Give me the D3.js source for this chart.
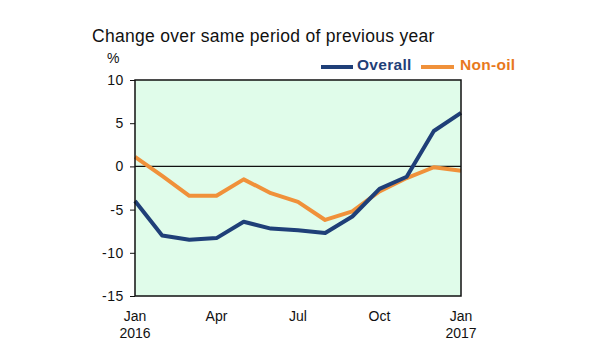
<!DOCTYPE html>
<html><head><meta charset="utf-8">
<script src="https://cdn.jsdelivr.net/npm/d3@7"></script>
<style>body{margin:0;background:#fff}svg text{font-family:"Liberation Sans",Arial,sans-serif}</style>
</head><body><svg id="c" width="600" height="360"></svg>
<script>
const months = ["Jan","Feb","Mar","Apr","May","Jun","Jul","Aug","Sep","Oct","Nov","Dec","Jan"];
const overall = [-4.0,-8.0,-8.5,-8.3,-6.4,-7.2,-7.4,-7.7,-5.8,-2.6,-1.2,4.1,6.2];
const nonOil = [1.1,-1.1,-3.4,-3.4,-1.5,-3.1,-4.1,-6.2,-5.2,-2.9,-1.35,-0.1,-0.5];
const yTicks = [10,5,0,-5,-10,-15];
const xTickIdx = [0,3,6,9,12];
const xTickLabels = [["Jan","2016"],["Apr",""],["Jul",""],["Oct",""],["Jan","2017"]];

const svg = d3.select("#c");
const L=135,R=461,T=80,B=296;
const x = d3.scaleLinear().domain([0,12]).range([L,R]);
const y = d3.scaleLinear().domain([-15,10]).range([B,T]);

svg.append("rect").attr("x",L).attr("y",T).attr("width",R-L).attr("height",B-T).attr("fill","#e0fcea");

svg.append("text").attr("x",92).attr("y",41.5).attr("font-size",17.5).attr("letter-spacing",0.3).attr("fill","#111").text("Change over same period of previous year");
svg.append("text").attr("x",107).attr("y",62.5).attr("font-size",14).attr("fill","#111").text("%");

// y axis
const ya = svg.append("g").attr("transform",`translate(${L},0)`)
  .call(d3.axisLeft(y).tickValues(yTicks).tickSize(5).tickPadding(6).tickFormat(d => String(d)));
ya.select(".domain").remove();
ya.selectAll("text").attr("font-size",14).attr("fill","#111").attr("letter-spacing",0.6).style("font-family","'Liberation Sans',Arial,sans-serif");
ya.selectAll("line").attr("stroke","#111");

// x axis labels
const xg = svg.append("g");
xTickIdx.forEach((i,k)=>{
  const t = xg.append("text").attr("x",x(i)).attr("text-anchor","middle").attr("font-size",14).attr("fill","#111");
  t.append("tspan").attr("x",x(i)).attr("y",321).text(xTickLabels[k][0]);
  if (xTickLabels[k][1]) t.append("tspan").attr("x",x(i)).attr("y",338).text(xTickLabels[k][1]);
});

// zero line
svg.append("line").attr("x1",L).attr("x2",R).attr("y1",y(0)).attr("y2",y(0)).attr("stroke","#111").attr("stroke-width",1.2);

const line = d3.line().x((d,i)=>x(i)).y(d=>y(d));
svg.append("path").datum(nonOil).attr("d",line).attr("fill","none").attr("stroke","#f0913a").attr("stroke-width",4).attr("stroke-linejoin","round");
svg.append("path").datum(overall).attr("d",line).attr("fill","none").attr("stroke","#1f3f78").attr("stroke-width",4).attr("stroke-linejoin","round");

// frame
svg.append("rect").attr("x",L).attr("y",T).attr("width",R-L).attr("height",B-T).attr("fill","none").attr("stroke","#111").attr("stroke-width",1.5);

// legend
const lg = svg.append("g");
lg.append("line").attr("x1",321).attr("x2",353).attr("y1",67).attr("y2",67).attr("stroke","#1f3f78").attr("stroke-width",4);
lg.append("text").attr("x",357).attr("y",70).attr("font-size",15.5).attr("font-weight","bold").attr("letter-spacing",0.3).attr("fill","#1f3f78").text("Overall");
lg.append("line").attr("x1",421).attr("x2",454).attr("y1",67).attr("y2",67).attr("stroke","#f0913a").attr("stroke-width",4);
lg.append("text").attr("x",460).attr("y",70).attr("font-size",15.5).attr("font-weight","bold").attr("letter-spacing",0.3).attr("fill","#e8791e").text("Non-oil");
</script></body></html>
